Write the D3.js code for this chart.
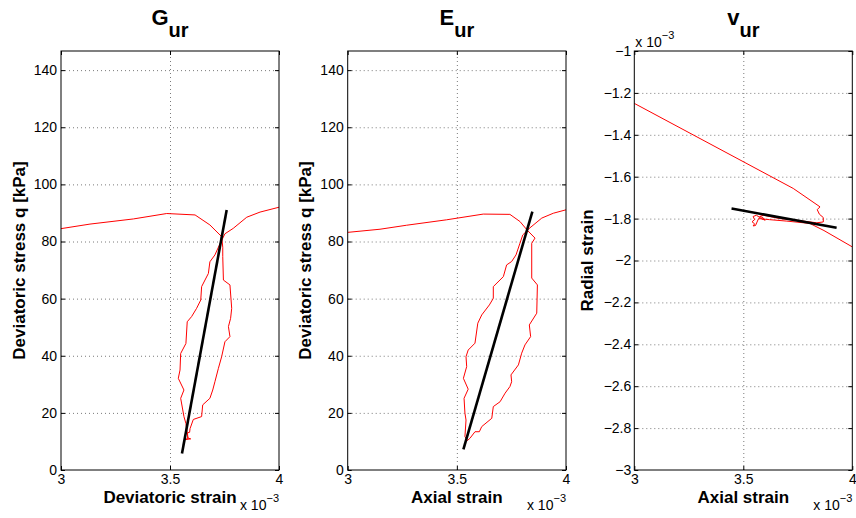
<!DOCTYPE html>
<html><head><meta charset="utf-8">
<script src="https://cdn.jsdelivr.net/npm/d3@7"></script>
<style>
body{margin:0;background:#fff;}
svg{display:block;font-family:"Liberation Sans",Arial,Helvetica,sans-serif;}
</style></head><body>
<svg id="chart" width="856" height="518"></svg>
<script>
// ---- tick labels ----
const strainTicks = [3, 3.5, 4];
const stressTicks = [0, 20, 40, 60, 80, 100, 120, 140];
const radialTicks = [-1, -1.2, -1.4, -1.6, -1.8, -2, -2.2, -2.4, -2.6, -2.8, -3];

// ---- G_ur : deviatoric strain (x 10^-3) vs deviatoric stress q [kPa] ----
const gurStrain = [3.000,3.133,3.332,3.485,3.615,3.683,3.737,
  3.742,3.742,3.745,3.775,3.783,3.778,3.768,3.775,3.752,3.737,3.722,3.706,3.696,3.683,3.650,3.645,3.607,3.592,
  3.590,3.580,3.582,3.565,3.595,3.582,3.577,
  3.573,3.564,3.549,3.564,3.538,3.546,3.549,3.573,3.579,3.599,3.622,3.641,3.645,3.676,3.683,3.706,3.725,
  3.752,3.790,3.852,3.913,4.000];
const gurStress = [84.5,86.1,87.9,89.8,89.3,85.8,81.7,
  78.0,74.7,66.5,64.8,56.6,53.1,50.2,46.7,44.9,39.7,35.6,30.9,28.0,25.1,22.8,18.7,17.7,14.5,
  13.2,13.0,11.0,10.6,10.9,11.2,14.0,
  16.3,18.7,25.1,28.0,32.1,35.0,40.8,44.3,51.9,53.7,56.6,59.5,64.2,68.8,72.9,75.3,78.5,
  82.7,84.6,88.5,90.3,92.0];
const gurFitStrain = [3.555, 3.760];
const gurFitStress = [5.8, 91.0];

// ---- E_ur : axial strain (x 10^-3) vs deviatoric stress q [kPa] ----
const eurStrain = [3.000,3.148,3.270,3.453,3.621,3.743,3.789,3.822,
  3.858,3.843,3.843,3.869,3.866,3.832,3.838,3.812,3.797,3.782,3.748,3.751,3.743,3.721,3.698,3.667,3.660,3.614,3.603,3.583,
  3.560,3.548,3.537,
  3.542,3.537,3.533,3.552,3.530,3.545,3.542,3.552,3.583,3.596,3.614,3.649,3.667,3.667,3.713,3.728,3.751,3.771,3.789,3.802,
  3.835,3.889,3.942,4.000];
const eurStress = [83.2,84.3,85.7,87.6,89.6,89.5,87.0,84.0,
  81.2,79.4,67.2,64.8,54.9,50.8,46.7,43.8,40.9,36.8,33.3,30.9,29.2,26.9,23.9,22.2,18.1,15.2,13.4,13.4,
  11.1,10.3,11.7,
  17.5,19.9,25.1,28.3,32.1,36.2,39.7,42.0,44.4,51.4,54.3,57.8,60.1,64.2,67.7,71.8,73.0,75.3,79.4,82.3,
  84.8,88.2,89.9,91.1];
const eurFitStrain = [3.530, 3.846];
const eurFitStress = [7.2, 90.5];

// ---- v_ur : axial strain (x 10^-3) vs radial strain (x 10^-3) ----
const nurAxial = [3.000,3.729,3.852,
  3.839,3.849,3.867,3.867,3.837,
  3.745,3.668,3.592,3.575,3.590,3.600,3.583,3.560,3.545,3.552,3.540,3.552,3.545,3.556,
  3.570,3.620,3.700,3.805,3.870,4.000];
const nurRadial = [-1.250,-1.656,-1.744,
  -1.757,-1.779,-1.795,-1.816,-1.820,
  -1.808,-1.800,-1.784,-1.790,-1.795,-1.808,-1.800,-1.784,-1.790,-1.805,-1.815,-1.825,-1.835,-1.833,
  -1.800,-1.805,-1.812,-1.823,-1.857,-1.935];
const nurFitAxial = [3.446, 3.928];
const nurFitRadial = [-1.752, -1.844];

const panels = [
  {title:"G", sub:"ur", left:61, right:279, ydom:[0,146.7], yticks:stressTicks,
   xlab:"Deviatoric strain", ylab:"Deviatoric stress q [kPa]", ylabOff:36, ypad:4,
   xs:gurStrain, ys:gurStress, fx:gurFitStrain, fy:gurFitStress, yexp:false},
  {title:"E", sub:"ur", left:347.7, right:566, ydom:[0,146.7], yticks:stressTicks,
   xlab:"Axial strain", ylab:"Deviatoric stress q [kPa]", ylabOff:36.5, ypad:4,
   xs:eurStrain, ys:eurStress, fx:eurFitStrain, fy:eurFitStress, yexp:false},
  {title:"v", sub:"ur", left:634.3, right:852.3, ydom:[-3,-1], yticks:radialTicks,
   xlab:"Axial strain", ylab:"Radial strain", ylabOff:41, ypad:3,
   xs:nurAxial, ys:nurRadial, fx:nurFitAxial, fy:nurFitRadial, yexp:true}
];

const svg = d3.select("#chart");
const plotTop = 51, plotBottom = 470;
const fmt = d => String(d).replace("-", "\u2212");

panels.forEach((p, i) => {
  const w = p.right - p.left, h = plotBottom - plotTop;
  const g = svg.append("g").attr("transform", `translate(${p.left},${plotTop})`);
  const x = d3.scaleLinear().domain([3, 4]).range([0, w]);
  const y = d3.scaleLinear().domain(p.ydom).range([h, 0]);

  // grid
  const gridY = p.yticks.filter(t => t !== p.ydom[0] && t !== p.ydom[1]);
  const gridX = strainTicks.filter(t => t !== 3 && t !== 4);
  g.append("g").attr("class","grid")
    .call(d3.axisLeft(y).tickValues(gridY).tickSize(-w).tickFormat(""))
    .call(s => s.select(".domain").remove())
    .call(s => s.selectAll("line").attr("stroke","#7a7a7a").attr("stroke-dasharray","1,3").attr("stroke-width",1));
  g.append("g").attr("class","grid").attr("transform",`translate(0,${h})`)
    .call(d3.axisBottom(x).tickValues(gridX).tickSize(-h).tickFormat(""))
    .call(s => s.select(".domain").remove())
    .call(s => s.selectAll("line").attr("stroke","#7a7a7a").attr("stroke-dasharray","1,3").attr("stroke-width",1));

  // clip
  const cid = "clip" + i;
  g.append("clipPath").attr("id", cid).append("rect").attr("width", w).attr("height", h);

  const line = d3.line().x(d => x(d[0])).y(d => y(d[1]));
  g.append("path").attr("clip-path", `url(#${cid})`)
    .datum(p.xs.map((v, k) => [v, p.ys[k]]))
    .attr("d", line).attr("fill","none").attr("stroke","#ff0000").attr("stroke-width",1)
    .attr("stroke-linejoin","round");
  g.append("path").attr("clip-path", `url(#${cid})`)
    .datum(p.fx.map((v, k) => [v, p.fy[k]]))
    .attr("d", line).attr("fill","none").attr("stroke","#000").attr("stroke-width",2.6);

  // axes with inward ticks
  const axStyle = s => {
    s.select(".domain").remove();
    s.selectAll("line").attr("stroke","#000");
    s.selectAll("text").attr("fill","#000").style("font-size","14px")
      .style("font-family",'"Liberation Sans",Arial,Helvetica,sans-serif');
  };
  g.append("g").call(d3.axisLeft(y).tickValues(p.yticks).tickSizeInner(-4).tickSizeOuter(0)
      .tickPadding(p.ypad).tickFormat(fmt)).call(axStyle);
  g.append("g").attr("transform",`translate(${w},0)`)
    .call(d3.axisRight(y).tickValues(p.yticks).tickSizeInner(-4).tickSizeOuter(0).tickFormat("")).call(axStyle);
  g.append("g").attr("transform",`translate(0,${h})`)
    .call(d3.axisBottom(x).tickValues(strainTicks).tickSizeInner(-4).tickSizeOuter(0)
      .tickPadding(4).tickFormat(fmt)).call(axStyle);
  g.append("g")
    .call(d3.axisTop(x).tickValues(strainTicks).tickSizeInner(-4).tickSizeOuter(0).tickFormat("")).call(axStyle);

  g.append("rect").attr("width", w).attr("height", h).attr("fill","none").attr("stroke","#000").attr("stroke-width",1);

  // title
  const t = svg.append("text").attr("x", p.left + w/2).attr("y", 25).attr("text-anchor","middle")
    .style("font-size","22px").style("font-weight","bold");
  t.append("tspan").text(p.title);
  t.append("tspan").attr("dy", 12).style("font-size","20px").text(p.sub);

  // x label
  svg.append("text").attr("x", p.left + w/2).attr("y", 503).attr("text-anchor","middle")
    .style("font-size","17px").style("font-weight","bold").text(p.xlab);
  // x exponent
  const ex = svg.append("text").attr("x", p.right).attr("y", 510).attr("text-anchor","end")
    .style("font-size","14px");
  ex.append("tspan").text("x 10");
  ex.append("tspan").attr("dy", -8).style("font-size","11px").text("\u22123");

  // y label
  svg.append("text").attr("transform", `translate(${p.left - p.ylabOff},${(plotTop+plotBottom)/2}) rotate(-90)`)
    .attr("text-anchor","middle").style("font-size","17px").style("font-weight","bold").text(p.ylab);

  if (p.yexp) {
    const ey = svg.append("text").attr("x", p.left + 1).attr("y", 47).attr("text-anchor","start")
      .style("font-size","14px");
    ey.append("tspan").text("x 10");
    ey.append("tspan").attr("dy", -8).style("font-size","11px").text("\u22123");
  }
});
</script>
</body></html>
